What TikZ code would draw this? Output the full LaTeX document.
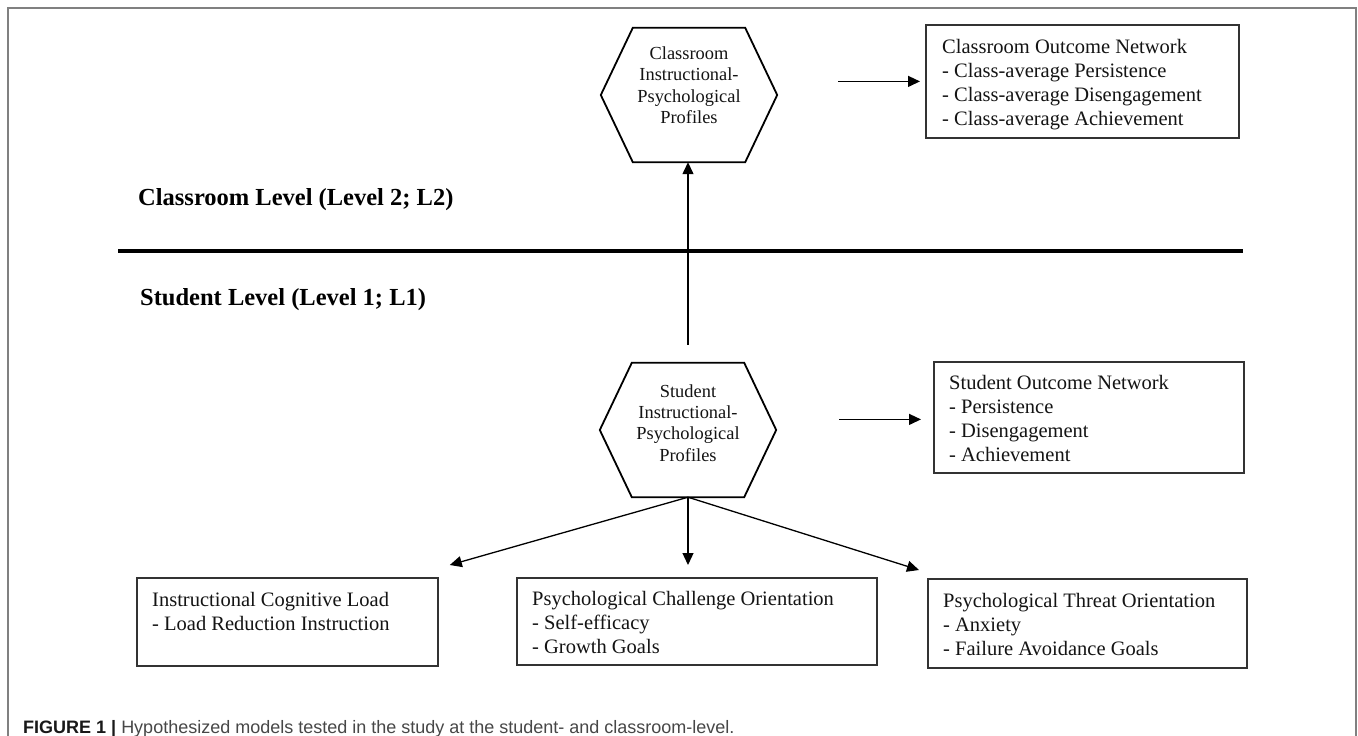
\documentclass[tikz,border=0pt]{standalone}
\usepackage{fontspec}
\setmainfont{Liberation Serif}
\newfontfamily\capfont{Liberation Sans}
\usetikzlibrary{arrows.meta,calc}
\begin{document}
\begin{tikzpicture}[x=1pt,y=-1pt,
  hexbox/.style={minimum width=176pt, minimum height=134pt, inner sep=0pt},
  hexline/.style={draw=black, line width=1.8pt, line join=miter},
  outbox/.style={draw=black!80, line width=1.8pt, inner sep=0pt, anchor=north west},
  boxtext/.style={font=\fontsize{20.5}{23.9}\selectfont, align=left, inner sep=0pt, anchor=north west, text=black!92},
  hextext/.style={font=\fontsize{18.4}{21.3}\selectfont, align=center, inner sep=0pt, anchor=north, text=black!92},
  levellabel/.style={font=\bfseries\fontsize{24.5}{29}\selectfont, inner sep=0pt, anchor=base west},
  arr/.style={-{Triangle[length=12pt,width=11pt]}, line width=1.3pt},
  divider/.style={line width=4pt},
  frameline/.style={draw=black!50, line width=1.5pt}
]
\useasboundingbox (0,0) rectangle (1358,736);
\fill[white] (0,0) rectangle (1358,736);
% outer frame (open at the bottom)
\draw[frameline] (8,736) -- (8,8) -- (1356,8) -- (1356,736);

% hexagons
\node[hexbox] (hexC) at (689,95) {};
\node[hexbox] (hexS) at (688,430) {};
\foreach \h in {hexC,hexS}
  \draw[hexline] (\h.west) -- ([xshift=32pt]\h.north west) -- ([xshift=-32pt]\h.north east)
    -- (\h.east) -- ([xshift=-32pt]\h.south east) -- ([xshift=32pt]\h.south west) -- cycle;
\node[hextext] (hexCt) at (689,46.7) {Classroom\\Instructional-\\Psychological\\Profiles};
\node[hextext] (hexSt) at (688,384.2) {Student\\Instructional-\\Psychological\\Profiles};

% outcome boxes
\node[outbox, minimum width=313pt, minimum height=113pt] (cbox) at (925,24) {};
\node[boxtext] (cboxt) at (942,39.3) {Classroom Outcome Network\\- Class-average Persistence\\- Class-average Disengagement\\- Class-average Achievement};
\node[outbox, minimum width=310pt, minimum height=111pt] (sbox) at (933,361) {};
\node[boxtext] (sboxt) at (949,375) {Student Outcome Network\\- Persistence\\- Disengagement\\- Achievement};

% bottom boxes
\node[outbox, minimum width=301pt, minimum height=88pt] (icl) at (136,577) {};
\node[boxtext] (iclt) at (152,591.7) {Instructional Cognitive Load\\- Load Reduction Instruction};
\node[outbox, minimum width=360pt, minimum height=87pt] (pco) at (516,577) {};
\node[boxtext] (pcot) at (532,591) {Psychological Challenge Orientation\\- Self-efficacy\\- Growth Goals};
\node[outbox, minimum width=319pt, minimum height=89pt] (pto) at (927,578) {};
\node[boxtext] (ptot) at (943,593.3) {Psychological Threat Orientation\\- Anxiety\\- Failure Avoidance Goals};

% level labels and divider
\node[levellabel] (l2) at (138,205) {Classroom Level (Level 2; L2)};
\node[levellabel] (l1) at (140,305) {Student Level (Level 1; L1)};
\draw[divider] (118,251) -- (1243,251);

% connectors
\draw[arr] ([xshift=-87pt]cbox.west) -- ([xshift=-5pt]cbox.west);
\draw[arr] ([xshift=-94pt,yshift=-2pt]sbox.west) -- ([xshift=-12pt,yshift=-2pt]sbox.west);
\draw[arr] ([yshift=18pt]hexS.north) -- (hexS.north |- hexC.south);
\draw[arr] (hexS.south) -- ([xshift=11pt,yshift=12pt]icl.north east);
\draw[arr] (hexS.south) -- ($(hexS.south |- pco.north)+(0,-12)$);
\draw[arr] (hexS.south) -- ([xshift=-8pt,yshift=8pt]pto.north west);

% caption
\node[anchor=base west, inner sep=0pt, font=\capfont\fontsize{18}{21}\selectfont, text=black!72] (cap) at (23,733)
  {{\color{black!90}\bfseries FIGURE 1 |} Hypothesized models tested in the study at the student- and classroom-level.};
\end{tikzpicture}
\end{document}
